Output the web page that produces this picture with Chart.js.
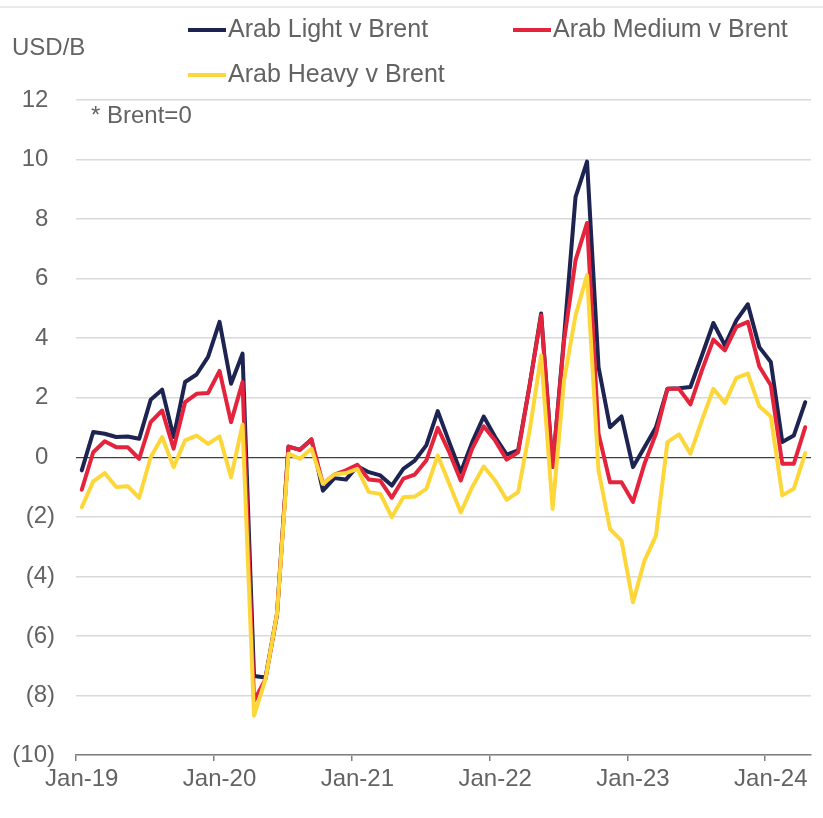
<!DOCTYPE html>
<html>
<head>
<meta charset="utf-8">
<title>Arab crude OSP differentials v Brent</title>
<script src="https://cdn.jsdelivr.net/npm/chart.js@4.4.1/dist/chart.umd.min.js"></script>
<style>
  html, body { margin: 0; padding: 0; background: #ffffff; }
  #wrap { position: relative; width: 823px; height: 818px; }
</style>
</head>
<body>
<div id="wrap"><canvas id="diffChart"></canvas></div>
<script>
// Months, Jan-19 .. Apr-24
var months = [
  'Jan-19','Feb-19','Mar-19','Apr-19','May-19','Jun-19','Jul-19','Aug-19','Sep-19','Oct-19','Nov-19','Dec-19',
  'Jan-20','Feb-20','Mar-20','Apr-20','May-20','Jun-20','Jul-20','Aug-20','Sep-20','Oct-20','Nov-20','Dec-20',
  'Jan-21','Feb-21','Mar-21','Apr-21','May-21','Jun-21','Jul-21','Aug-21','Sep-21','Oct-21','Nov-21','Dec-21',
  'Jan-22','Feb-22','Mar-22','Apr-22','May-22','Jun-22','Jul-22','Aug-22','Sep-22','Oct-22','Nov-22','Dec-22',
  'Jan-23','Feb-23','Mar-23','Apr-23','May-23','Jun-23','Jul-23','Aug-23','Sep-23','Oct-23','Nov-23','Dec-23',
  'Jan-24','Feb-24','Mar-24','Apr-24'
];

// USD/B vs Brent (Brent = 0)
var arabLight = [
  -0.44, 0.85, 0.79, 0.68, 0.70, 0.62, 1.93, 2.27, 0.68, 2.53, 2.78, 3.37,
  4.55, 2.47, 3.48, -7.35, -7.40, -5.26, 0.36, 0.25, 0.60, -1.12, -0.70, -0.75,
  -0.30, -0.50, -0.61, -0.95, -0.39, -0.11, 0.40, 1.55, 0.51, -0.50, 0.51, 1.37,
  0.68, 0.09, 0.23, 2.42, 4.83, -0.33, 4.04, 8.75, 9.93, 3.03, 1.01, 1.37,
  -0.33, 0.34, 1.01, 2.30, 2.32, 2.36, 3.42, 4.51, 3.76, 4.60, 5.14, 3.70,
  3.20, 0.51, 0.73, 1.85
];
var arabMedium = [
  -1.09, 0.17, 0.54, 0.34, 0.34, -0.05, 1.18, 1.57, 0.29, 1.85, 2.13, 2.16,
  2.90, 1.18, 2.53, -8.18, -7.45, -5.30, 0.36, 0.25, 0.60, -0.90, -0.58, -0.44,
  -0.25, -0.75, -0.79, -1.36, -0.72, -0.58, -0.11, 0.99, 0.17, -0.78, 0.29, 1.04,
  0.56, -0.08, 0.17, 2.42, 4.77, -0.33, 3.93, 6.62, 7.87, 0.79, -0.84, -0.84,
  -1.50, -0.22, 0.79, 2.30, 2.30, 1.78, 2.92, 3.95, 3.59, 4.38, 4.55, 3.05,
  2.42, -0.22, -0.22, 1.01
];
var arabHeavy = [
  -1.68, -0.81, -0.53, -1.00, -0.97, -1.36, 0.00, 0.68, -0.33, 0.57, 0.73, 0.45,
  0.70, -0.67, 1.10, -8.68, -7.45, -5.26, 0.12, -0.05, 0.29, -0.89, -0.58, -0.53,
  -0.39, -1.17, -1.23, -2.01, -1.34, -1.32, -1.06, 0.06, -0.89, -1.85, -1.00, -0.31,
  -0.78, -1.43, -1.17, 0.90, 3.42, -1.73, 2.58, 4.77, 6.12, -0.44, -2.41, -2.80,
  -4.87, -3.47, -2.63, 0.51, 0.77, 0.12, 1.24, 2.30, 1.82, 2.67, 2.81, 1.71,
  1.37, -1.28, -1.06, 0.14
];

var seriesNames = ['Arab Light v Brent', 'Arab Medium v Brent', 'Arab Heavy v Brent'];
var seriesColors = ['#1d2452', '#e4233c', '#fdd73a'];

var FONT = "'Liberation Sans', Arial, sans-serif";
var TEXT = '#636363';

// Legend + notes drawn Excel-style (two columns, second row left aligned)
var chartNotes = {
  id: 'chartNotes',
  afterDraw: function (chart) {
    var ctx = chart.ctx;
    ctx.save();
    // faint frame line at top
    ctx.strokeStyle = '#e3e3e3';
    ctx.lineWidth = 1.5;
    ctx.beginPath();
    ctx.moveTo(0, 7);
    ctx.lineTo(chart.width, 7);
    ctx.stroke();

    ctx.fillStyle = TEXT;
    ctx.textBaseline = 'middle';
    ctx.textAlign = 'left';
    ctx.font = '24px ' + FONT;
    ctx.fillText('USD/B', 12, 48);
    ctx.fillText('* Brent=0', 91, 116);

    var spots = [[188, 30], [513, 30], [188, 75]];
    ctx.font = '25px ' + FONT;
    chart.data.datasets.forEach(function (ds, i) {
      var p = spots[i];
      ctx.strokeStyle = ds.borderColor;
      ctx.lineWidth = 4;
      ctx.beginPath();
      ctx.moveTo(p[0], p[1]);
      ctx.lineTo(p[0] + 38, p[1]);
      ctx.stroke();
      ctx.fillStyle = TEXT;
      ctx.fillText(ds.label, p[0] + 40, p[1]);
    });
    ctx.restore();
  }
};

var ctx1 = document.getElementById('diffChart').getContext('2d');
var myChart = new Chart(ctx1, {
  type: 'line',
  data: {
    labels: months,
    datasets: [
      { label: seriesNames[0], data: arabLight, borderColor: seriesColors[0], order: 3 },
      { label: seriesNames[1], data: arabMedium, borderColor: seriesColors[1], order: 2 },
      { label: seriesNames[2], data: arabHeavy, borderColor: seriesColors[2], order: 1 }
    ]
  },
  options: {
    responsive: true,
    maintainAspectRatio: false,
    animation: false,
    layout: { padding: { top: 100, right: 12, bottom: 0, left: 0 } },
    elements: {
      line: { borderWidth: 4, tension: 0, borderJoinStyle: 'round', borderCapStyle: 'round', fill: false },
      point: { radius: 0, hoverRadius: 0 }
    },
    plugins: {
      legend: { display: false },
      tooltip: { enabled: false }
    },
    scales: {
      x: {
        type: 'category',
        offset: true,
        grid: {
          offset: true,
          drawOnChartArea: false,
          drawTicks: true,
          tickLength: 6,
          lineWidth: 1.5,
          tickColor: function (c) { return c.index % 12 === 0 ? '#808080' : 'rgba(0,0,0,0)'; }
        },
        border: { display: true, color: '#808080', width: 1.5 },
        ticks: {
          autoSkip: false,
          maxRotation: 0,
          minRotation: 0,
          padding: 4,
          color: TEXT,
          font: { family: FONT, size: 24 },
          callback: function (value) {
            var l = this.getLabelForValue(value);
            return l.indexOf('Jan') === 0 ? l : '';
          }
        },
        afterFit: function (scale) { scale.height = 63; }
      },
      y: {
        min: -10,
        max: 12,
        grid: {
          drawTicks: false,
          color: function (c) { return c.tick && c.tick.value === 0 ? '#3f3f3f' : '#d9d9d9'; },
          lineWidth: function (c) { return c.tick && c.tick.value === 0 ? 1.2 : 1.5; }
        },
        border: { display: false },
        ticks: {
          stepSize: 2,
          padding: 21,
          color: TEXT,
          font: { family: FONT, size: 24 },
          callback: function (v) { return v < 0 ? '(' + (-v) + ')' : v + ' '; }
        },
        afterFit: function (scale) { scale.width = 76; }
      }
    }
  },
  plugins: [chartNotes]
});
</script>
</body>
</html>
